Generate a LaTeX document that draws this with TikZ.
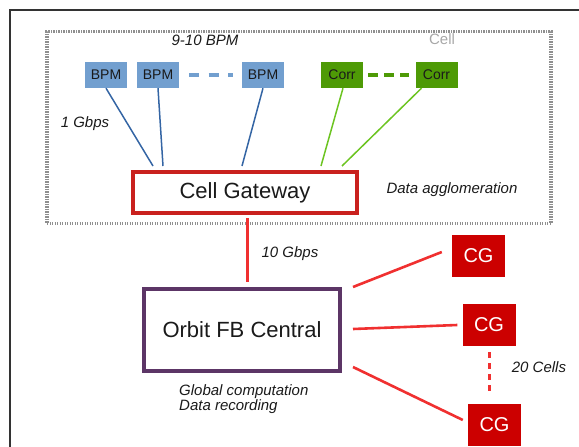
\documentclass[tikz,border=0pt]{standalone}
\usepackage{fontspec}
\setmainfont{Liberation Sans}
\definecolor{bpmfill}{HTML}{729FCF}
\definecolor{bpmline}{HTML}{3465A4}
\definecolor{corrfill}{HTML}{4E9A06}
\definecolor{corrline}{HTML}{6CC421}
\definecolor{gwred}{HTML}{C9211E}
\definecolor{cgred}{HTML}{CC0000}
\definecolor{linkred}{HTML}{F03030}
\definecolor{orbitpurple}{HTML}{5C3566}
\definecolor{textdark}{HTML}{1A1A1A}
\definecolor{cellgray}{HTML}{A8A8A8}
\definecolor{framegray}{HTML}{333333}
\begin{document}
\begin{tikzpicture}[x=1pt,y=-1pt,
  smallbox/.style={minimum width=42pt, minimum height=26pt, inner sep=0pt,
    font=\fontsize{14}{16}\selectfont, text=textdark},
  bpmbox/.style={smallbox, fill=bpmfill},
  corrbox/.style={smallbox, fill=corrfill},
  cgbox/.style={fill=cgred, text=white, minimum width=53pt, minimum height=42pt,
    inner sep=0pt, font=\fontsize{20}{22}\selectfont},
  bigbox/.style={draw, line width=4pt, inner sep=0pt, text=textdark,
    font=\fontsize{22}{26}\selectfont},
  cellframe/.style={draw=cellgray!85!black, line width=3.5pt, dash pattern=on 1.3pt off 1.2pt},
  note/.style={inner sep=0pt, font=\fontsize{15}{15}\selectfont\itshape, text=textdark},
  bluelink/.style={draw=bpmline, line width=1.5pt},
  greenlink/.style={draw=corrline, line width=1.5pt},
  redlink/.style={draw=linkred, line width=2.6pt},
]
\useasboundingbox (0,0) rectangle (579,447);

% outer frame
\draw[framegray, line width=2pt] (579,10) -- (10,10) -- (10,447);

% cell enclosure
\node[cellframe, minimum width=504pt, minimum height=192pt, inner sep=0pt] (cell) at (299,127.5) {};
\node[inner sep=0pt, text=cellgray, font=\fontsize{15}{17}\selectfont] (celllbl) at (442,39) {Cell};

% BPMs and correctors
\node[bpmbox] (b1) at (106,75) {BPM};
\node[bpmbox] (b2) at (158,75) {BPM};
\node[bpmbox] (b3) at (263,75) {BPM};
\node[corrbox] (c1) at (342,75) {Corr};
\node[corrbox] (c2) at (436.5,75) {Corr};

\draw[draw=bpmfill, line width=3.2pt, dash pattern=on 10pt off 9.5pt, shorten <=10pt, shorten >=9pt] (b2.east) -- (b3.west);
\draw[draw=corrfill, line width=3.2pt, dash pattern=on 10pt off 6pt, shorten <=5pt, shorten >=6pt] (c1.east) -- (c2.west);

% cell gateway
\node[bigbox, draw=gwred, minimum width=224pt, minimum height=41pt] (gw) at (245,192.5) {Cell Gateway};

\draw[bluelink] (b1.south) -- ([xshift=22pt,yshift=4pt]gw.north west);
\draw[bluelink] (b2.south) -- ([xshift=32pt,yshift=4pt]gw.north west);
\draw[bluelink] (b3.south) -- ([xshift=111pt,yshift=4pt]gw.north west);
\draw[greenlink] ([xshift=1pt]c1.south) -- ([xshift=190pt,yshift=4pt]gw.north west);
\draw[greenlink] ([xshift=-15pt]c2.south) -- ([xshift=211pt,yshift=4pt]gw.north west);

% central node
\node[bigbox, draw=orbitpurple, minimum width=196pt, minimum height=82pt] (orbit) at (242,330) {Orbit FB Central};

\draw[redlink, shorten <=3pt, shorten >=5pt] ([xshift=2.5pt]gw.south) -- ([xshift=5.5pt]orbit.north);

% other cell gateways
\node[cgbox] (cg1) at (478.5,256) {CG};
\node[cgbox] (cg2) at (489,325) {CG};
\node[cgbox] (cg3) at (494.5,424.5) {CG};

\draw[redlink] ([xshift=11pt]orbit.north east) -- ([xshift=-10pt,yshift=4pt]cg1.west);
\draw[redlink] ([xshift=11pt,yshift=1pt]orbit.east) -- ([xshift=-5pt]cg2.west);
\draw[redlink] ([xshift=11pt,yshift=6pt]orbit.south east) -- ([xshift=-5pt,yshift=4.5pt]cg3.west);
\draw[draw=linkred, line width=3pt, dash pattern=on 6pt off 5pt, shorten <=6pt, shorten >=11pt] (cg2.south) -- (cg2.south |- cg3.north);

% annotations
\node[note] (nbpm) at (205,40) {9-10 BPM};
\node[note] (n1g) at (85,124) {1 Gbps};
\node[note] (nagg) at (452,190) {Data agglomeration};
\node[note] (n10g) at (290,254) {10 Gbps};
\node[note] (ncells) at (539,367) {20 Cells};
\node[note, anchor=west, align=left] (nglob) at (179,399.5) {Global computation\\Data recording};
\end{tikzpicture}
\end{document}
